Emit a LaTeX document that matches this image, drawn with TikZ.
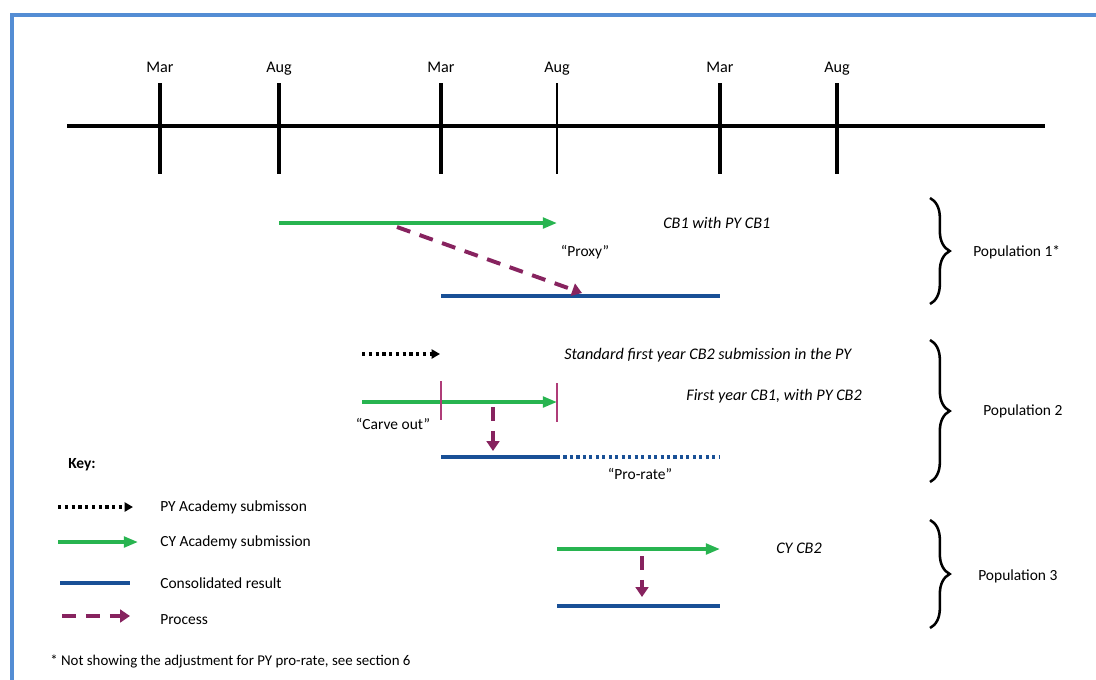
\documentclass[tikz,border=0pt]{standalone}
\usepackage{fontspec}
\setmainfont{Carlito}
\usetikzlibrary{arrows.meta,decorations.pathreplacing}

\definecolor{frameblue}{RGB}{84,141,212}
\definecolor{cygreen}{RGB}{40,180,80}
\definecolor{resblue}{RGB}{25,80,150}
\definecolor{procpurple}{RGB}{135,35,95}
\definecolor{cutpurple}{RGB}{175,60,120}

\tikzset{
  lbl/.style={font=\fontsize{11}{13}\selectfont,inner sep=0pt},
  note/.style={font=\fontsize{11.5}{13}\selectfont\itshape,inner sep=0pt},
  cyline/.style={draw=cygreen,line width=2.3pt,-{Triangle[length=10pt,width=7.5pt]}},
  pyline/.style={draw=black,line width=2.6pt,dash pattern=on 2.4pt off 2.4pt,-{Triangle[length=6pt,width=6.5pt]}},
  resline/.style={draw=resblue,line width=2.5pt},
  resdots/.style={draw=resblue,line width=2.4pt,dash pattern=on 2.2pt off 2.4pt},
  procline/.style={draw=procpurple,line width=2.8pt,dash pattern=on 10pt off 7pt,-{Triangle[length=7pt,width=9pt]}},
  cutline/.style={draw=cutpurple,line width=0.8pt},
  bracestyle/.style={draw,line width=1.8pt,decorate,decoration={brace,amplitude=14pt}}
}

\begin{document}
\begin{tikzpicture}[x=0.025cm,y=-0.025cm]
  \useasboundingbox (0,0) rectangle (1096,679);
  \draw[frameblue,line width=3pt] (12,682) -- (12,15) -- (1099,15);

  % time line
  \coordinate (tl0) at (67,126);
  \coordinate (tl1) at (1045,126);
  \draw[line width=2.3pt] (tl0) -- (tl1);
  \foreach \n/\x/\m/\w in {ma/160/Mar/2.3pt,aa/279/Aug/2.3pt,mb/441/Mar/2.3pt,ab/557/Aug/1pt,mc/720/Mar/2.3pt,ac/837/Aug/2.3pt} {
    \coordinate (\n-t) at (\x,83);
    \coordinate (\n-b) at (\x,174);
    \draw[line width=\w] (\n-t) -- (\n-b);
    \node[lbl,font=\fontsize{11.5}{13}\selectfont,anchor=base] (\n) at (\x,72) {\m};
  }

  % population 1
  \coordinate (p1a) at (279,223);
  \coordinate (p1b) at (557,223);
  \coordinate (p1c) at (441,296);
  \coordinate (p1d) at (720,296);
  \coordinate (p1e) at (397,227);
  \coordinate (p1f) at (582,293);
  \draw[cyline] (p1a) -- (p1b);
  \draw[resline] (p1c) -- (p1d);
  \draw[procline] (p1e) -- (p1f);
  \node[note,anchor=west] (cbone) at (663,223) {CB1 with PY CB1};
  \node[lbl] (proxy) at (585,252) {``Proxy''};

  % population 2
  \coordinate (p2a) at (362,354);
  \coordinate (p2b) at (440,354);
  \coordinate (p2c) at (362,402);
  \coordinate (p2d) at (557,402);
  \coordinate (p2e) at (441,457);
  \coordinate (p2f) at (557,457);
  \coordinate (p2g) at (720,457);
  \coordinate (p2h) at (493,407);
  \coordinate (p2i) at (493,451);
  \coordinate (cut1t) at (441,381);
  \coordinate (cut1b) at (441,420);
  \coordinate (cut2t) at (557,383);
  \coordinate (cut2b) at (557,422);
  \draw[pyline] (p2a) -- (p2b);
  \draw[cyline] (p2c) -- (p2d);
  \draw[cutline] (cut1t) -- (cut1b);
  \draw[cutline] (cut2t) -- (cut2b);
  \draw[resline] (p2e) -- (p2f);
  \draw[resdots] (p2f) -- (p2g);
  \draw[procline] (p2h) -- (p2i);
  \node[note,anchor=west] (stdcb) at (564,355) {Standard first year CB2 submission in the PY};
  \node[note,anchor=east] (firstcb) at (862,396) {First year CB1, with PY CB2};
  \node[lbl] (carve) at (393,424) {``Carve out''};
  \node[lbl] (prorate) at (640,474) {``Pro-rate''};

  % population 3
  \coordinate (p3a) at (557,549);
  \coordinate (p3b) at (720,549);
  \coordinate (p3c) at (557,606);
  \coordinate (p3d) at (720,606);
  \coordinate (p3e) at (642,556);
  \coordinate (p3f) at (642,597);
  \draw[cyline] (p3a) -- (p3b);
  \draw[resline] (p3c) -- (p3d);
  \draw[procline] (p3e) -- (p3f);
  \node[note,anchor=west] (cycb) at (776,548) {CY CB2};

  % braces
  \foreach \b/\t/\u/\y/\x/\s in {1/198/304/252/973/Population 1*,2/340/482/411/983/Population 2,3/520/628/576/978/Population 3} {
    \coordinate (br\b-t) at (930,\t);
    \coordinate (br\b-b) at (930,\u);
    \draw[bracestyle] (br\b-t) -- (br\b-b);
    \node[lbl,anchor=west] (pop\b) at (\x,\y) {\s};
  }

  % key
  \node[lbl,font=\fontsize{11}{13}\selectfont\bfseries,anchor=west] (key) at (68,465) {Key:};
  \coordinate (k1a) at (58,507);
  \coordinate (k1b) at (133,507);
  \coordinate (k2a) at (58,542);
  \coordinate (k2b) at (138,542);
  \coordinate (k3a) at (60,583);
  \coordinate (k3b) at (130,583);
  \coordinate (k4a) at (62,616);
  \coordinate (k4b) at (130,616);
  \draw[pyline] (k1a) -- (k1b);
  \draw[cyline] (k2a) -- (k2b);
  \draw[resline] (k3a) -- (k3b);
  \draw[procline] (k4a) -- (k4b);
  \node[lbl,anchor=west] (kpy) at (160,507) {PY Academy submisson};
  \node[lbl,anchor=west] (kcy) at (160,542) {CY Academy submission};
  \node[lbl,anchor=west] (kres) at (160,583) {Consolidated result};
  \node[lbl,anchor=west] (kproc) at (160,620) {Process};

  \node[lbl,font=\fontsize{10.6}{12}\selectfont,anchor=west] (foot) at (50,661) {* Not showing the adjustment for PY pro-rate, see section 6};
\end{tikzpicture}
\end{document}
